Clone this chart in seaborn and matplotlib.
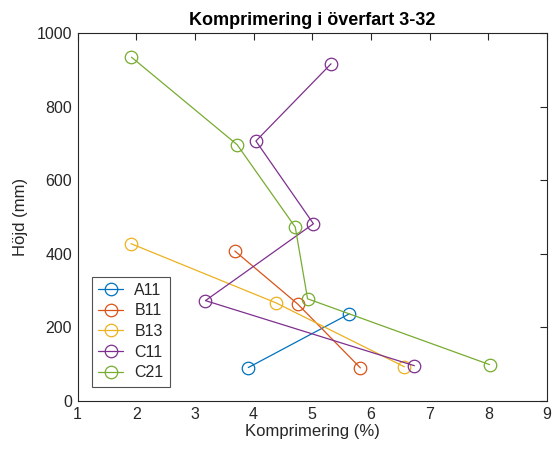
import matplotlib
matplotlib.use("Agg")
import matplotlib.pyplot as plt
import seaborn as sns
import pandas as pd

# Compression (%) and height (mm) per measurement series
a11_x = [3.91, 5.63]
a11_y = [91, 237]
b11_x = [3.68, 4.75, 5.82]
b11_y = [408, 264, 90]
b13_x = [1.91, 4.38, 6.57]
b13_y = [428, 267, 93]
c11_x = [5.32, 4.04, 5.02, 3.18, 6.74]
c11_y = [917, 707, 482, 273, 96]
c21_x = [1.92, 3.72, 4.71, 4.92, 8.02]
c21_y = [935, 697, 473, 278, 99]

series_names = ["A11", "B11", "B13", "C11", "C21"]
series_x = [a11_x, b11_x, b13_x, c11_x, c21_x]
series_y = [a11_y, b11_y, b13_y, c11_y, c21_y]
colors = ["#0072BD", "#D95319", "#EDB120", "#7E2F8E", "#77AC30"]

x_ticks = [1, 2, 3, 4, 5, 6, 7, 8, 9]
y_ticks = [0, 200, 400, 600, 800, 1000]

sns.set_style("white")
plt.rcParams["font.family"] = ["Liberation Sans", "DejaVu Sans"]

fig = plt.figure(figsize=(5.52, 4.53), dpi=100)
ax = fig.add_axes([0.1404, 0.1148, 0.8506, 0.8117])

axis_col = "#262626"
for name, xs, ys, col in zip(series_names, series_x, series_y, colors):
    df = pd.DataFrame({"x": xs, "y": ys})
    sns.lineplot(data=df, x="x", y="y", sort=False, ax=ax, color=col,
                 marker="o", markersize=9, markerfacecolor="none",
                 markeredgecolor=col, markeredgewidth=0.9,
                 linewidth=0.9, label=name)

ax.set_xlim(1, 9)
ax.set_ylim(0, 1000)
ax.set_xticks(x_ticks)
ax.set_yticks(y_ticks)
ax.tick_params(direction="in", top=True, right=True, length=5, width=0.8,
               colors=axis_col, labelsize=11.5, labelcolor=axis_col, pad=4)
for sp in ax.spines.values():
    sp.set_color(axis_col)
    sp.set_linewidth(0.8)

ax.set_xlabel("Komprimering (%)", fontsize=12, color=axis_col, labelpad=2)
ax.set_ylabel("Höjd (mm)", fontsize=12, color=axis_col, labelpad=6)
ax.set_title("Komprimering i överfart 3-32", fontsize=13, fontweight="bold",
             color="black", pad=6)

leg = ax.legend(loc="lower left", bbox_to_anchor=(0.031, 0.039), fontsize=11.5,
                frameon=True, fancybox=False, edgecolor=axis_col,
                handlelength=1.55, handletextpad=0.7, borderpad=0.4,
                borderaxespad=0, labelspacing=0.35)
leg.get_frame().set_linewidth(0.8)

fig.savefig("out.png", dpi=100)
